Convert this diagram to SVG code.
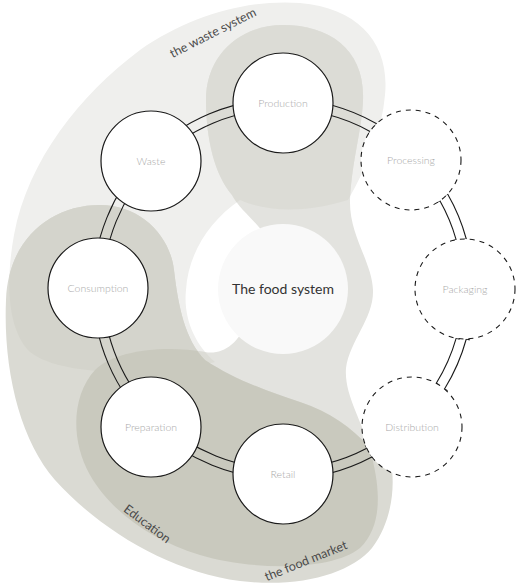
<svg xmlns="http://www.w3.org/2000/svg" width="520" height="584" viewBox="0 0 520 584">
<defs>
<style>
.rail{fill:none;stroke:#1a1a1a;stroke-width:1.1}
.node{fill:#ffffff;stroke:#1a1a1a;stroke-width:1.2}
.dnode{fill:#ffffff;stroke:#1a1a1a;stroke-width:1.1;stroke-dasharray:5 5}
.nt{font-family:Lato,'Open Sans',sans-serif;font-weight:300;font-size:10.5px;fill:#a8a8a8;text-anchor:middle}
.lbl{font-family:Lato,'Open Sans',sans-serif;font-size:12.5px;fill:#4a4a4a;text-anchor:middle}
.ct{font-family:Lato,'Open Sans',sans-serif;font-size:14px;fill:#333333;text-anchor:middle}
</style>
<path id="shW" d="M 348,200 C 368,165 382,130 385,95 C 390,45 360,8 300,3 C 250,-1 190,15 140,50 C 80,95 28,160 14,235 C 5,285 8,330 30,352 C 60,375 130,374 175,367 C 195,364 208,364 215,362 C 195,345 183,318 186,290 C 188,255 208,222 240,200 C 262,210 300,215 348,200 Z"/>
<path id="shE" d="M 283,25 C 330,25 365,50 363,100 C 362,130 352,160 350,200 C 349,235 372,262 373,290 C 374,318 350,340 346,368 C 344,395 362,420 370,450 C 380,485 384,525 360,548 C 330,572 250,570 200,555 C 150,540 110,510 90,475 C 70,440 72,395 95,370 C 115,350 165,345 205,352 C 222,355 238,345 248,320 L 265,235 C 255,220 240,210 232,195 C 215,175 206,140 206,100 C 206,55 240,25 283,25 Z"/>
<path id="shFM" d="M 100,205 C 140,205 170,235 174,270 C 178,305 185,340 205,360 C 235,380 270,392 300,402 C 330,412 352,428 368,446 C 376,440 388,446 391,462 C 395,485 393,520 372,548 C 350,574 300,588 240,581 C 170,572 100,530 55,480 C 20,440 3,370 6,300 C 8,240 50,205 100,205 Z"/>
<clipPath id="clipE"><use href="#shE"/></clipPath>
<clipPath id="clipFM"><use href="#shFM"/></clipPath>
</defs>

<g id="regions">
<use href="#shW" fill="#efefed"/>
<use href="#shE" fill="#e3e3df"/>
<use href="#shFM" fill="#dadad3"/>
<use href="#shW" fill="#dcdcd6" clip-path="url(#clipE)"/>
<use href="#shW" fill="#d4d4cc" clip-path="url(#clipFM)"/>
<use href="#shE" fill="#c9c9be" clip-path="url(#clipFM)"/>
</g>

<g id="region-labels">
<text class="lbl" x="0" y="4" transform="translate(213,33) rotate(-27)">the waste system</text>
<text class="lbl" x="0" y="4" transform="translate(147,524) rotate(37)">Education</text>
<text class="lbl" x="0" y="4" transform="translate(306,561) rotate(-22)">the food market</text>
</g>

<g id="food-system">
<circle cx="283" cy="289" r="65" fill="#f9f9f9"/>
<text class="ct" x="283" y="294">The food system</text>
</g>

<g id="connectors">
<path class="rail" d="M 283,99 A 190 190 0 0 1 376.7,123.7 L 375.0,126.7 M 283,109 A 180 180 0 0 1 370.0,131.4 L 368.3,134.5"/>
<path class="rail" d="M 444.6,195.8 L 447.6,194.0 A 190 190 0 0 1 466.3,239.0 L 462.9,239.9 M 436.9,202.5 L 439.9,200.8 A 180 180 0 0 1 456.2,239.8 L 452.8,240.8"/>
<path class="rail" d="M 469.7,339.9 L 466.3,339.0 A 190 190 0 0 1 444.5,389.0 L 447.5,390.8 M 459.6,339.2 L 456.2,338.2 A 180 180 0 0 1 436.3,383.3 L 439.3,385.1"/>
<path class="rail" d="M 370.3,453.8 L 371.9,456.9 A 190 190 0 0 1 283,479 M 365.2,445.2 L 366.8,448.3 A 180 180 0 0 1 283,469"/>
<path class="rail" d="M 283,479 A 190 190 0 0 1 151.6,426.2 M 283,469 A 180 180 0 0 1 158.5,419.0"/>
<path class="rail" d="M 151.6,426.2 A 190 190 0 0 1 93,289 M 158.5,419.0 A 180 180 0 0 1 103,289"/>
<path class="rail" d="M 93,289 A 190 190 0 0 1 146.6,156.7 M 103,289 A 180 180 0 0 1 153.8,163.6"/>
<path class="rail" d="M 146.6,156.7 A 190 190 0 0 1 283,99 M 153.8,163.6 A 180 180 0 0 1 283,109"/>
</g>

<g id="node-production"><circle class="node" cx="283" cy="103" r="50"/><text class="nt" x="283" y="107">Production</text></g>
<g id="node-processing"><circle class="dnode" cx="411" cy="160" r="50"/><text class="nt" x="411" y="164">Processing</text></g>
<g id="node-packaging"><circle class="dnode" cx="465" cy="289" r="50"/><text class="nt" x="465" y="293">Packaging</text></g>
<g id="node-distribution"><circle class="dnode" cx="412" cy="427" r="50"/><text class="nt" x="412" y="431">Distribution</text></g>
<g id="node-retail"><circle class="node" cx="283" cy="474" r="50"/><text class="nt" x="283" y="478">Retail</text></g>
<g id="node-preparation"><circle class="node" cx="151" cy="427" r="50"/><text class="nt" x="151" y="431">Preparation</text></g>
<g id="node-consumption"><circle class="node" cx="98" cy="288" r="50"/><text class="nt" x="98" y="292">Consumption</text></g>
<g id="node-waste"><circle class="node" cx="151" cy="161" r="50"/><text class="nt" x="151" y="165">Waste</text></g>
</svg>
